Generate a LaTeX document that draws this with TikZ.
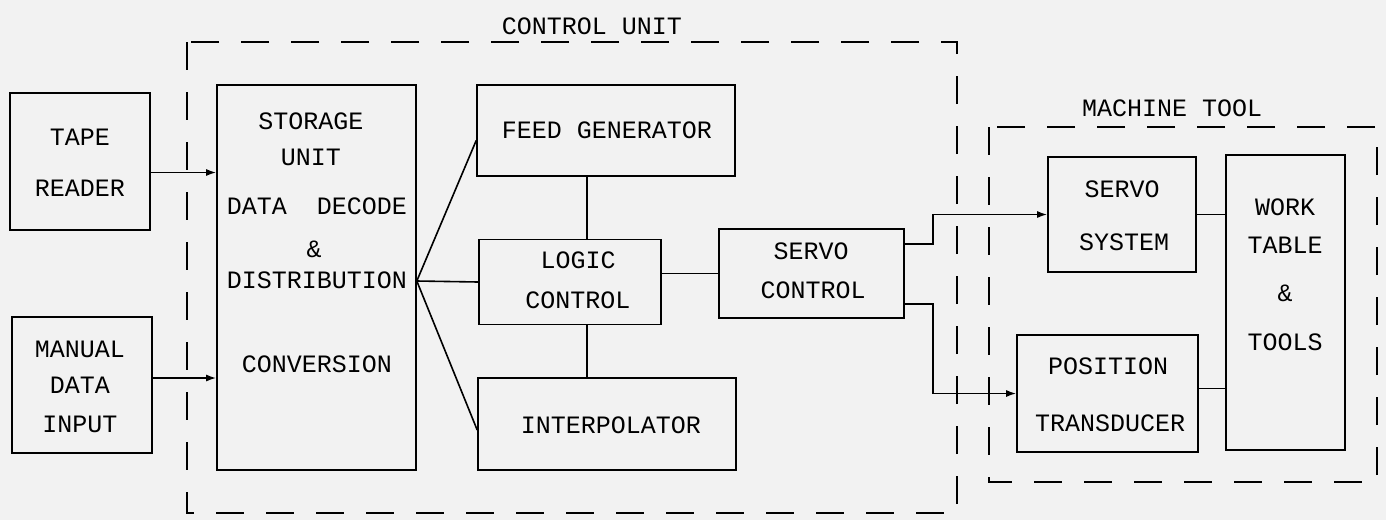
\documentclass[tikz,border=0pt]{standalone}
\usepackage{fontspec}
\setmonofont{Liberation Mono}
\usetikzlibrary{arrows.meta}
\begin{document}
\begin{tikzpicture}[x=1pt,y=-1pt,
  line width=1.6pt,
  box/.style={draw, rectangle, inner sep=0pt},
  txt/.style={inner sep=0pt, font=\ttfamily\fontsize{25}{30}\selectfont},
  group/.style={draw, line width=1.7pt, dash pattern=on 28pt off 22pt},
  arr/.style={-{Latex[length=10pt,width=7pt]}},
]
\useasboundingbox[fill=black!5] (0,0) rectangle (1386,520);

% group frames
\draw[group] (187,42) rectangle (957,513);
\draw[group] (989,127) rectangle (1377,482);
\node[txt] (cu) at (592,26) {CONTROL UNIT};
\node[txt] (mt) at (1172,108) {MACHINE TOOL};

% boxes
\node[box, minimum width=140pt, minimum height=137pt] (tape) at (80,161.5) {};
\node[box, minimum width=140pt, minimum height=136pt] (manual) at (82,385) {};
\node[box, minimum width=199pt, minimum height=385pt] (storage) at (316.5,277.5) {};
\node[box, minimum width=258pt, minimum height=91pt] (feed) at (606,130.5) {};
\node[box, minimum width=182pt, minimum height=85pt] (logic) at (570,282) {};
\node[box, minimum width=258pt, minimum height=92pt] (interp) at (607,424) {};
\node[box, minimum width=185pt, minimum height=89pt] (sctl) at (811.5,273.5) {};
\node[box, minimum width=148pt, minimum height=115pt] (ssys) at (1122,214.5) {};
\node[box, minimum width=119pt, minimum height=295pt] (work) at (1285.5,302.5) {};
\node[box, minimum width=181pt, minimum height=117pt] (ptrans) at (1107.5,393.5) {};

% texts
\node[txt] (t1) at (80,137) {TAPE};
\node[txt] (t2) at (80,188) {READER};
\node[txt] (m1) at (80,349) {MANUAL};
\node[txt] (m2) at (80,385) {DATA};
\node[txt] (m3) at (80,424) {INPUT};
\node[txt] (s1) at (311,121) {STORAGE};
\node[txt] (s2) at (311,157) {UNIT};
\node[txt] (s3) at (317,206) {DATA~ DECODE};
\node[txt] (s4) at (314,249) {\&};
\node[txt] (s5) at (317,280) {DISTRIBUTION};
\node[txt] (s6) at (317,364) {CONVERSION};
\node[txt] (f1) at (607,130) {FEED GENERATOR};
\node[txt] (l1) at (578,260) {LOGIC};
\node[txt] (l2) at (578,300) {CONTROL};
\node[txt] (i1) at (611,425) {INTERPOLATOR};
\node[txt] (c1) at (811,251) {SERVO};
\node[txt] (c2) at (813,290) {CONTROL};
\node[txt] (y1) at (1122,189) {SERVO};
\node[txt] (y2) at (1124,242) {SYSTEM};
\node[txt] (w1) at (1285,207) {WORK};
\node[txt] (w2) at (1285,245) {TABLE};
\node[txt] (w3) at (1285,293) {\&};
\node[txt] (w4) at (1285,342) {TOOLS};
\node[txt] (p1) at (1108,366) {POSITION};
\node[txt] (p2) at (1110,423) {TRANSDUCER};

% connectors
\draw[arr] ([yshift=-11pt]tape.east) coordinate (ta) -- (ta -| storage.west);
\draw[arr] ([yshift=7pt]manual.east) coordinate (ma) -- (ma -| storage.west);
\coordinate (fan) at ([yshift=-3.5pt]storage.east);
\draw (fan) -- ([yshift=-10pt]feed.west);
\draw (fan) -- (logic.west);
\draw (fan) -- ([yshift=-6pt]interp.west);
\coordinate (vx) at (587,0);
\draw (feed.south -| vx) -- (logic.north -| vx);
\draw (logic.south -| vx) -- (interp.north -| vx);
\draw (logic.east |- sctl.west) -- (sctl.west);
\draw[arr] ([yshift=29.5pt]sctl.east) -- ++(28,0) |- (ssys.west);
\draw[arr] ([yshift=-30.5pt]sctl.east) -- ++(28,0) |- (ptrans.west);
\draw (ssys.east) -- (ssys.east -| work.west);
\draw ([yshift=5pt]ptrans.east) coordinate (pe) -- (pe -| work.west);
\end{tikzpicture}
\end{document}
